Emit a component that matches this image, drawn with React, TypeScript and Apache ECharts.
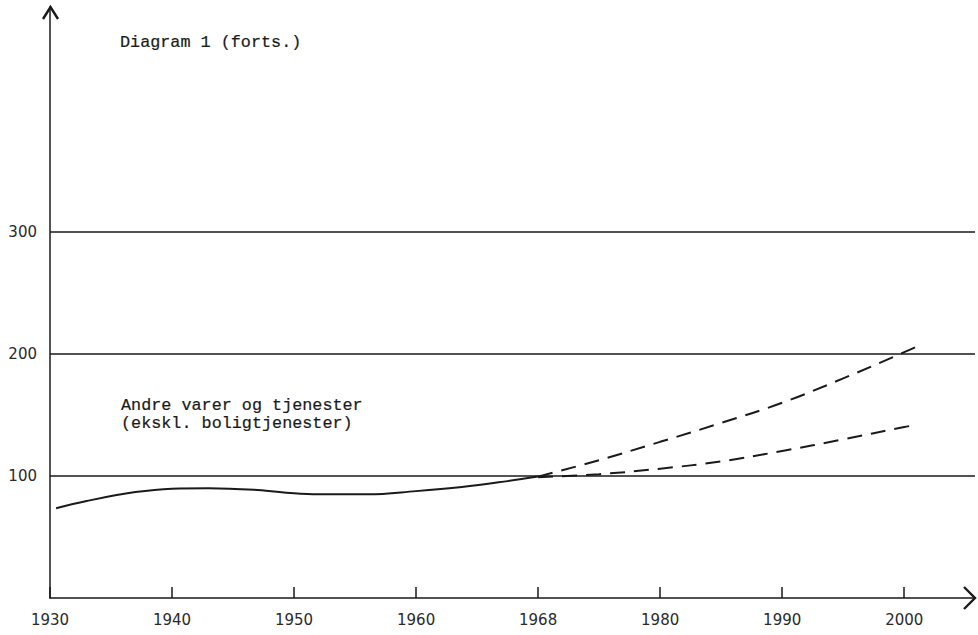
import React, { useEffect, useRef } from "react";
import * as echarts from "echarts";

// ---- data ----
const tickLabels = ["1930", "1940", "1950", "1960", "1968", "1980", "1990", "2000"];
const gridValues = [100, 200, 300];

const histYears = [1930.5, 1933, 1937, 1940, 1943, 1947, 1950, 1952, 1956, 1960, 1963, 1966, 1968];
const histValues = [73.5, 79.5, 86.8, 89.6, 90, 88.5, 85.8, 85, 85, 87.6, 91, 95.8, 99.5];

const highYears = [1968, 1974, 1980, 1985, 1990, 1995, 2000, 2001];
const highValues = [99.5, 113, 128, 143.5, 160, 180, 201.5, 206];

const lowYears = [1968, 1974, 1980, 1985, 1990, 1995, 2000, 2000.5];
const lowValues = [99, 101.5, 106, 112, 120.5, 130, 140.2, 141];

// The original drawing places 1968 where 1970 would be (equal tick spacing).
function toAxis(year: number): number {
  if (year <= 1960) return year;
  if (year <= 1968) return 1960 + ((year - 1960) * 10) / 8;
  if (year <= 1980) return 1970 + ((year - 1968) * 10) / 12;
  return year;
}

const pairs = (xs: number[], ys: number[]) => xs.map((x, i) => [toAxis(x), ys[i]]);

// layout
const W = 978;
const H = 635;
const G_LEFT = 50;
const G_RIGHT = 3;
const G_TOP = 7;
const G_BOTTOM = 37;

const ink = "#1a1a1a";
const mono = "'Liberation Mono', 'DejaVu Sans Mono', monospace";
const sans = "'DejaVu Sans', sans-serif";

export default function App() {
  const ref = useRef<HTMLDivElement>(null);
  useEffect(() => {
    if (!ref.current) return;
    const chart = echarts.init(ref.current, null, { renderer: "svg" });
    const xEnd = W - G_RIGHT;
    const yBase = H - G_BOTTOM;
    chart.setOption({
      animation: false,
      backgroundColor: "#ffffff",
      grid: { left: G_LEFT, right: G_RIGHT, top: G_TOP, bottom: G_BOTTOM, containLabel: false },
      xAxis: {
        type: "value",
        min: 1930,
        max: 2005.8,
        interval: 10,
        splitLine: { show: false },
        axisLine: { show: true, onZero: false, lineStyle: { color: ink, width: 1.5 } },
        axisTick: { show: true, inside: true, length: 11, lineStyle: { color: ink, width: 1.5 } },
        axisLabel: {
          margin: 14,
          fontFamily: sans,
          fontSize: 15,
          color: "#2a2a2a",
          showMaxLabel: false,
          formatter: (v: number) => {
            const i = Math.round((v - 1930) / 10);
            return Math.abs(v - (1930 + i * 10)) < 1e-6 && tickLabels[i] ? tickLabels[i] : "";
          },
        },
      },
      yAxis: {
        type: "value",
        min: 0,
        max: 484.4,
        interval: 100,
        splitLine: { show: false },
        axisLine: { show: true, lineStyle: { color: ink, width: 1.5 } },
        axisTick: { show: false },
        axisLabel: {
          margin: 13,
          fontFamily: sans,
          fontSize: 15,
          color: "#2a2a2a",
          showMaxLabel: false,
          formatter: (v: number) => (gridValues.includes(v) ? String(v) : ""),
        },
      },
      series: [
        {
          name: "Andre varer og tjenester",
          type: "line",
          data: pairs(histYears, histValues),
          smooth: 0.4,
          showSymbol: false,
          lineStyle: { color: ink, width: 2 },
          markLine: {
            silent: true,
            symbol: "none",
            label: { show: false },
            lineStyle: { color: ink, width: 1.5, type: "solid" },
            data: gridValues.map((v) => ({ yAxis: v })),
          },
          z: 3,
        },
        {
          name: "Høyt alternativ",
          type: "line",
          data: pairs(highYears, highValues),
          smooth: 0.4,
          showSymbol: false,
          lineStyle: { color: ink, width: 2, type: [15, 9] },
          z: 3,
        },
        {
          name: "Lavt alternativ",
          type: "line",
          data: pairs(lowYears, lowValues),
          smooth: 0.4,
          showSymbol: false,
          lineStyle: { color: ink, width: 2, type: [15, 9] },
          z: 3,
        },
      ],
      graphic: [
        {
          type: "polyline",
          shape: { points: [[G_LEFT - 7, G_TOP + 12], [G_LEFT + 0.5, G_TOP], [G_LEFT + 8, G_TOP + 12]] },
          style: { stroke: ink, lineWidth: 2.4, fill: "none", lineJoin: "miter" },
          z: 10,
        },
        {
          type: "polyline",
          shape: { points: [[xEnd - 11, yBase - 11], [xEnd, yBase], [xEnd - 11, yBase + 11]] },
          style: { stroke: ink, lineWidth: 2.4, fill: "none", lineJoin: "miter" },
          z: 10,
        },
        {
          type: "text",
          x: 120,
          y: 42,
          style: {
            text: "Diagram 1 (forts.)",
            font: `16.8px ${mono}`,
            fill: ink,
            stroke: ink,
            lineWidth: 0.2,
            verticalAlign: "middle",
          },
        },
        {
          type: "text",
          x: 121,
          y: 396,
          style: {
            text: "Andre varer og tjenester\n(ekskl. boligtjenester)",
            font: `16.8px ${mono}`,
            lineHeight: 18,
            fill: ink,
            stroke: ink,
            lineWidth: 0.2,
            verticalAlign: "top",
          },
        },
      ],
    });
    return () => chart.dispose();
  }, []);
  return (
    <div
      ref={ref}
      style={{ position: "fixed", left: 0, top: 0, width: W, height: H, background: "#fff" }}
    />
  );
}
